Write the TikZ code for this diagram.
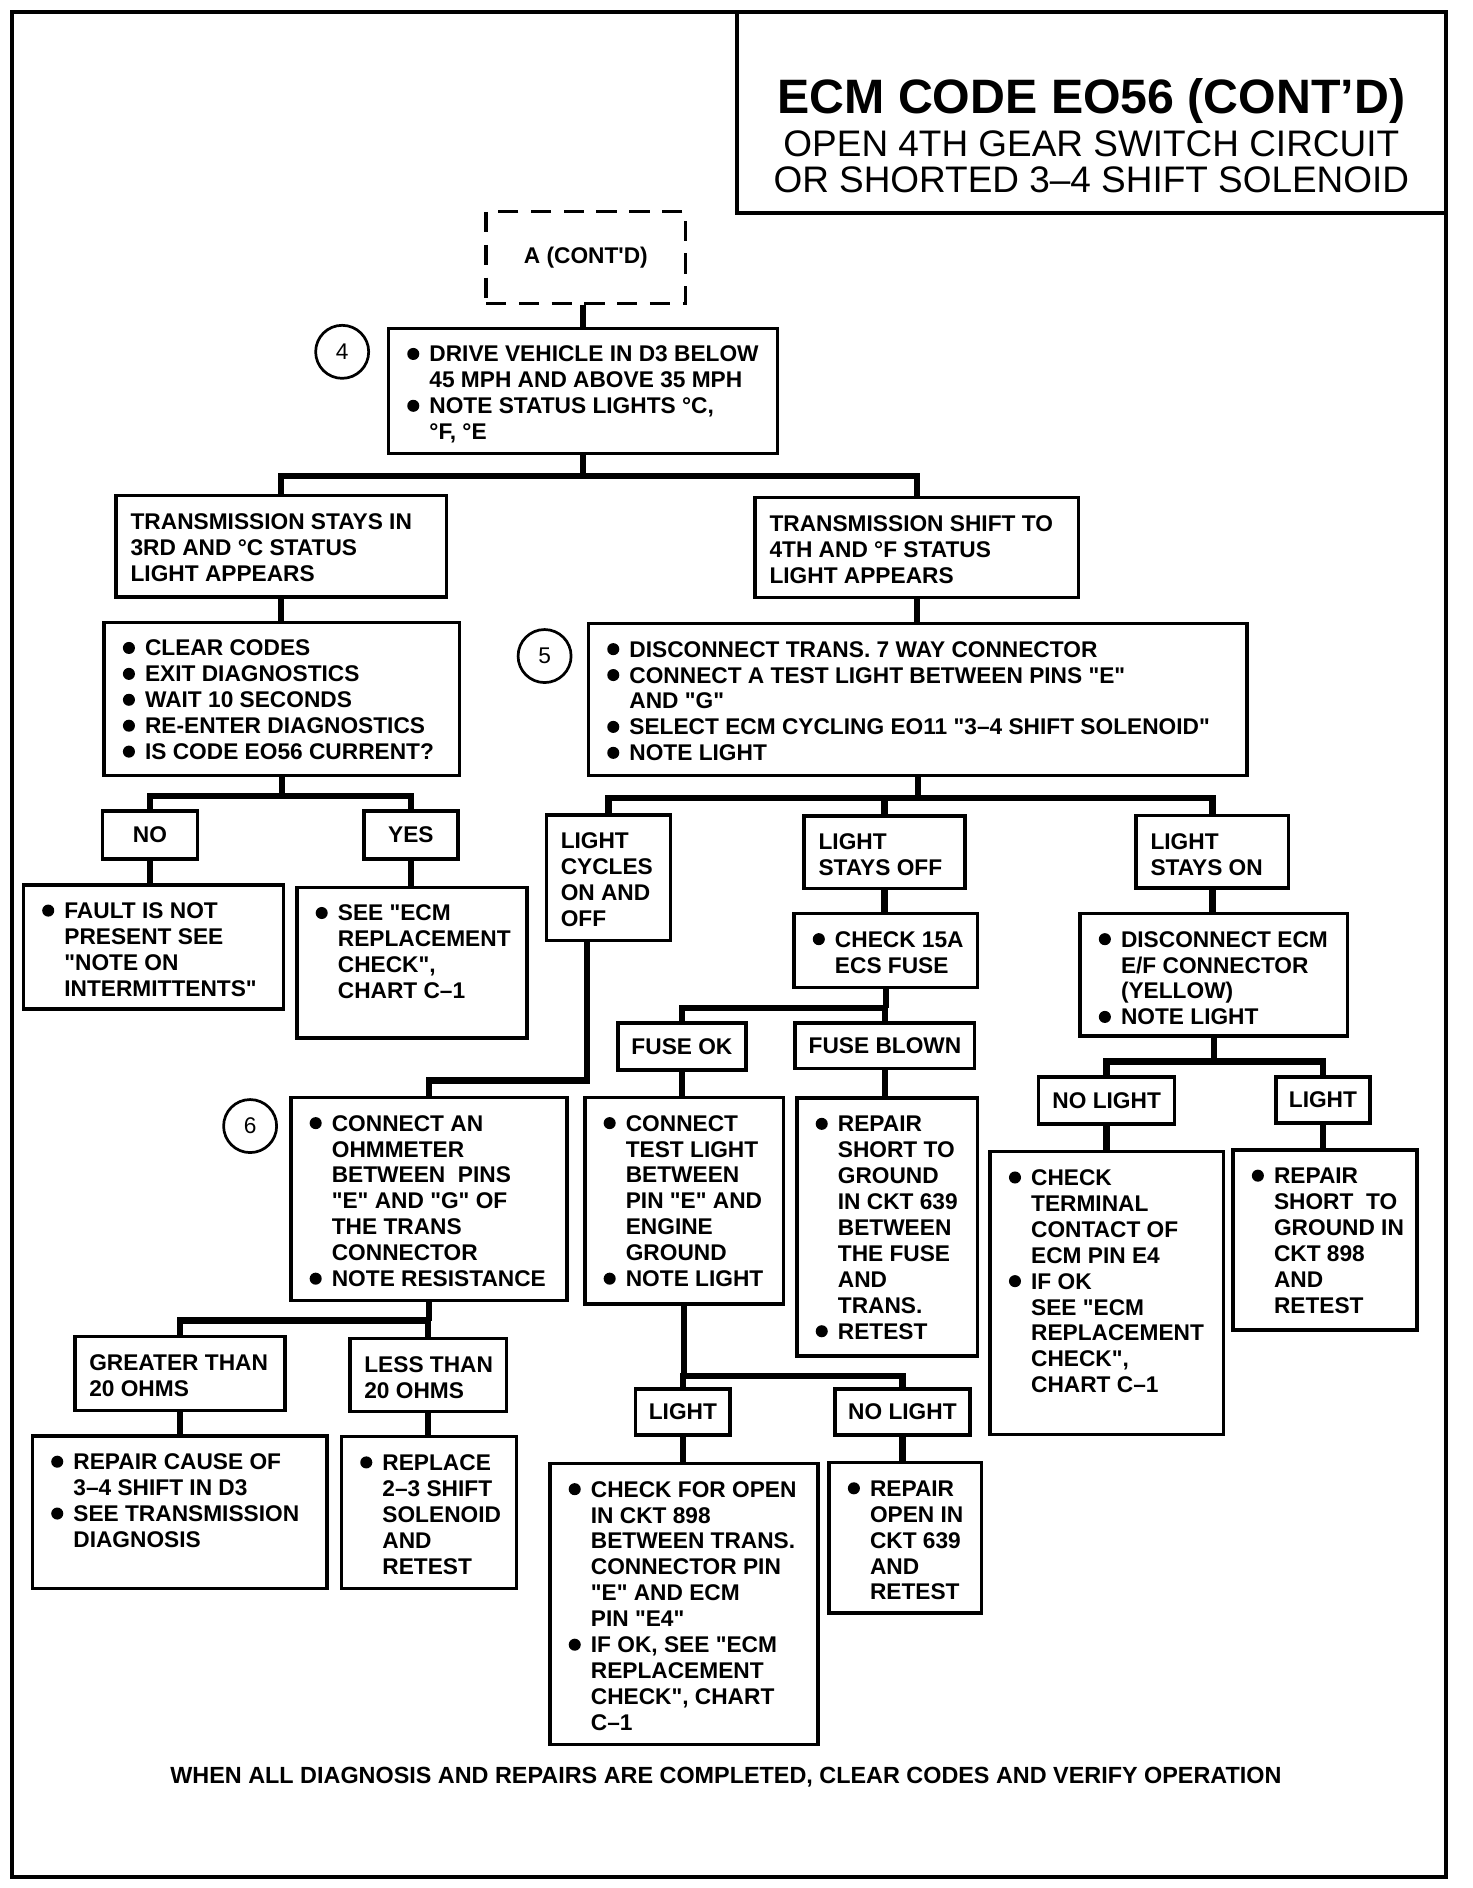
\documentclass[tikz,border=0pt]{standalone}
\usepackage{fontspec}
\setmainfont{Liberation Sans}[Ligatures=TeXOff]

\newcommand{\bodyfont}{\fontsize{13.4pt}{15.3pt}\selectfont\bfseries}
\newcommand{\bu}{\makebox[0.55cm][l]{\hspace{0.09cm}\tikz[baseline=0pt]\fill (0.125cm,0.165cm) circle (0.125cm);}}
\newcommand{\ind}{\hspace*{0.55cm}}
\newcommand{\txt}[3]{\parbox[c][#2][t]{#1}{\begin{tabular}{@{}l@{}}#3\end{tabular}}}

\begin{document}
\begin{tikzpicture}[x=0.025cm, y=-0.025cm,
    box/.style={draw, line width=2pt, anchor=north west, inner xsep=0.3cm, inner ysep=0.3225cm, font=\bodyfont},
    lbl/.style={draw, line width=2pt, inner sep=0pt, font=\bodyfont},
    circ/.style={draw, circle, line width=1.6pt, minimum size=1.1cm, inner sep=0pt, font=\fontsize{13.4pt}{15pt}\selectfont}]
    \useasboundingbox (0,0) rectangle (1222,1567);
    \fill[white] (0,0) rectangle (1222,1567);
    \draw[line width=2.4pt] (10,10) rectangle (1200,1557.6);
    \draw[line width=2.2pt] (611.5,10) rectangle (1200,176.5);

    \node[anchor=base, font=\fontsize{28.5pt}{30pt}\selectfont\bfseries] (ttl) at (905.75,94) {ECM CODE EO56 (CONT’D)};
    \node[anchor=base, font=\fontsize{21.8pt}{24pt}\selectfont] (sub1) at (905.75,130) {OPEN 4TH GEAR SWITCH CIRCUIT};
    \node[anchor=base, font=\fontsize{21.8pt}{24pt}\selectfont] (sub2) at (905.75,160) {OR SHORTED 3–4 SHIFT SOLENOID};

    \node[lbl, dash pattern=on 0.42cm off 0.26cm, minimum width=4.14cm, minimum height=1.91cm] (A) at (486.25,213.75) {A (CONT'D)};

    \node[circ] (c4) at (284,292) {4};
    \node[box] (s4) at (321,271) {\txt{7.475cm}{1.955cm}{\bu DRIVE VEHICLE IN D3 BELOW\\ \ind 45 MPH AND ABOVE 35 MPH\\ \bu NOTE STATUS LIGHTS °C,\\ \ind °F, °E}};

    \node[box] (stay3) at (95,410) {\txt{6.25cm}{1.455cm}{TRANSMISSION STAYS IN\\ 3RD AND °C STATUS\\ LIGHT APPEARS}};
    \node[box] (shift4) at (625.3,411.7) {\txt{6.11cm}{1.43cm}{TRANSMISSION SHIFT TO\\ 4TH AND °F STATUS\\ LIGHT APPEARS}};

    \node[box] (clr) at (85,515) {\txt{6.775cm}{2.53cm}{\bu CLEAR CODES\\ \bu EXIT DIAGNOSTICS\\ \bu WAIT 10 SECONDS\\ \bu RE-ENTER DIAGNOSTICS\\ \bu IS CODE EO56 CURRENT?}};
    \node[circ] (c5) at (452,544.5) {5};
    \node[box] (s5) at (487,516) {\txt{13.0625cm}{2.505cm}{\bu DISCONNECT TRANS. 7 WAY CONNECTOR\\ \bu CONNECT A TEST LIGHT BETWEEN PINS "E"\\ \ind AND "G"\\ \bu SELECT ECM CYCLING EO11 "3–4 SHIFT SOLENOID"\\ \bu NOTE LIGHT}};

    \node[lbl, minimum width=1.975cm, minimum height=1cm] (no) at (124.5,693) {NO};
    \node[lbl, minimum width=1.95cm, minimum height=1cm] (yes) at (341,693) {YES};
    \node[box] (fault) at (18,733) {\txt{4.8cm}{1.93cm}{\bu FAULT IS NOT\\ \ind PRESENT SEE\\ \ind "NOTE ON\\ \ind INTERMITTENTS"}};
    \node[box] (ecm1) at (245,735) {\txt{4.175cm}{2.48cm}{\bu SEE "ECM\\ \ind REPLACEMENT\\ \ind CHECK",\\ \ind CHART C–1}};

    \node[box] (cyc) at (452,675) {\txt{1.975cm}{1.955cm}{LIGHT\\ CYCLES\\ ON AND\\ OFF}};
    \node[box] (lsoff) at (666,675.7) {\txt{2.74cm}{0.8625cm}{LIGHT\\ STAYS OFF}};
    \node[box] (lson) at (941.5,675.5) {\txt{2.5625cm}{0.855cm}{LIGHT\\ STAYS ON}};
    \node[box] (chk15) at (657.6,756.7) {\txt{3.21cm}{0.8875cm}{\bu CHECK 15A\\ \ind ECS FUSE}};
    \node[box] (disc) at (895,756.7) {\txt{4.95cm}{1.9cm}{\bu DISCONNECT ECM\\ \ind E/F CONNECTOR\\ \ind (YELLOW)\\ \bu NOTE LIGHT}};

    \node[lbl, minimum width=2.65cm, minimum height=0.975cm] (fok) at (566,868.5) {FUSE OK};
    \node[lbl, minimum width=3.725cm, minimum height=0.95cm] (fblown) at (734.5,868) {FUSE BLOWN};
    \node[lbl, minimum width=2.825cm, minimum height=0.975cm] (nolt1) at (918.5,913.5) {NO LIGHT};
    \node[lbl, minimum width=1.95cm, minimum height=0.95cm] (lt1) at (1098,913) {LIGHT};

    \node[circ] (c6) at (207.6,934.6) {6};
    \node[box] (s6) at (240,909.4) {\txt{5.125cm}{3.565cm}{\bu CONNECT AN\\ \ind OHMMETER\\ \ind BETWEEN~~PINS\\ \ind "E" AND "G" OF\\ \ind THE TRANS\\ \ind CONNECTOR\\ \bu NOTE RESISTANCE}};
    \node[box] (test) at (484,909.4) {\txt{3.525cm}{3.6375cm}{\bu CONNECT\\ \ind TEST LIGHT\\ \ind BETWEEN\\ \ind PIN "E" AND\\ \ind ENGINE\\ \ind GROUND\\ \bu NOTE LIGHT}};
    \node[box] (short639) at (660,910) {\txt{3.145cm}{4.705cm}{\bu REPAIR\\ \ind SHORT TO\\ \ind GROUND\\ \ind IN CKT 639\\ \ind BETWEEN\\ \ind THE FUSE\\ \ind AND\\ \ind TRANS.\\ \bu RETEST}};
    \node[box] (term) at (820.4,954.5) {\txt{4.24cm}{5.2175cm}{\bu CHECK\\ \ind TERMINAL\\ \ind CONTACT OF\\ \ind ECM PIN E4\\ \bu IF OK\\ \ind SEE "ECM\\ \ind REPLACEMENT\\ \ind CHECK",\\ \ind CHART C–1}};
    \node[box] (short898) at (1022,953) {\txt{3.2125cm}{3.0925cm}{\bu REPAIR\\ \ind SHORT~~TO\\ \ind GROUND IN\\ \ind CKT 898\\ \ind AND\\ \ind RETEST}};

    \node[box] (gt20) at (60.7,1108) {\txt{3.7575cm}{0.88cm}{GREATER THAN\\ 20 OHMS}};
    \node[box] (lt20) at (289,1109.5) {\txt{2.65cm}{0.875cm}{LESS THAN\\ 20 OHMS}};
    \node[box] (cause) at (25.5,1190.4) {\txt{5.5125cm}{2.52cm}{\bu REPAIR CAUSE OF\\ \ind 3–4 SHIFT IN D3\\ \bu SEE TRANSMISSION\\ \ind DIAGNOSIS}};
    \node[box] (repl) at (282,1191) {\txt{3.025cm}{2.505cm}{\bu REPLACE\\ \ind 2–3 SHIFT\\ \ind SOLENOID\\ \ind AND\\ \ind RETEST}};

    \node[lbl, minimum width=1.96cm, minimum height=0.9575cm] (lt2) at (566.8,1171.9) {LIGHT};
    \node[lbl, minimum width=2.8cm, minimum height=0.9575cm] (nolt2) at (749,1171.9) {NO LIGHT};
    \node[box] (open898) at (455,1213.2) {\txt{4.9575cm}{5.1875cm}{\bu CHECK FOR OPEN\\ \ind IN CKT 898\\ \ind BETWEEN TRANS.\\ \ind CONNECTOR PIN\\ \ind "E" AND ECM\\ \ind PIN "E4"\\ \bu IF OK, SEE "ECM\\ \ind REPLACEMENT\\ \ind CHECK", CHART\\ \ind C–1}};
    \node[box] (open639) at (686.7,1212.5) {\txt{2.5675cm}{2.4775cm}{\bu REPAIR\\ \ind OPEN IN\\ \ind CKT 639\\ \ind AND\\ \ind RETEST}};

    \node[anchor=base, font=\fontsize{13.8pt}{15pt}\selectfont\bfseries] (foot) at (602.5,1480) {WHEN ALL DIAGNOSIS AND REPAIRS ARE COMPLETED, CLEAR CODES AND VERIFY OPERATION};

    \begin{scope}[every path/.style={line width=3.8pt}]
       \draw (s4.north |- A.south) -- (s4.north);
       \draw (s4.south) -- ++(0,17) coordinate (j4);
       \draw (stay3.north) |- (j4) -| (shift4.north);
       \draw (stay3.south) -- (stay3.south |- clr.north);
       \draw (shift4.south) -- (shift4.south |- s5.north);

       \draw (clr.south) -- ++(0,16) coordinate (jclr);
       \draw (no.north) |- (jclr) -| (yes.north);
       \draw (no.south) -- (no.south |- fault.north);
       \draw (yes.south) -- (yes.south |- ecm1.north);

       \draw (s5.south) -- ++(0,17.5) coordinate (j5);
       \draw (cyc.north) |- (j5) -| (lson.north);
       \draw (lsoff.north) -- (lsoff.north |- j5);
       \draw ([xshift=-0.4375cm]cyc.south) -- ++(0,115) -| (s6.north);

       \draw (lsoff.south) -- (lsoff.south |- chk15.north);
       \draw (chk15.south) -- ++(0,16) coordinate (jfuse);
       \draw (fok.north) |- (jfuse) -| (fblown.north);
       \draw (fok.south) -- (fok.south |- test.north);
       \draw (fblown.south) -- (fblown.south |- short639.north);

       \draw (lson.south) -- (lson.south |- disc.north);
       \draw (disc.south) -- ++(0,19.5) coordinate (jdisc);
       \draw (nolt1.north) |- (jdisc) -| (lt1.north);
       \draw (nolt1.south) -- (nolt1.south |- term.north);
       \draw (lt1.south) -- (lt1.south |- short898.north);

       \draw (s6.south) -- ++(0,15.4) coordinate (j6);
       \draw (gt20.north) |- (j6) -| (lt20.north);
       \draw (gt20.south) -- (gt20.south |- cause.north);
       \draw (lt20.south) -- (lt20.south |- repl.north);

       \draw (test.south) -- ++(0,58.7) coordinate (jtest);
       \draw (lt2.north) |- (jtest) -| (nolt2.north);
       \draw (lt2.south) -- (lt2.south |- open898.north);
       \draw (nolt2.south) -- (nolt2.south |- open639.north);
    \end{scope}
\end{tikzpicture}
\end{document}
